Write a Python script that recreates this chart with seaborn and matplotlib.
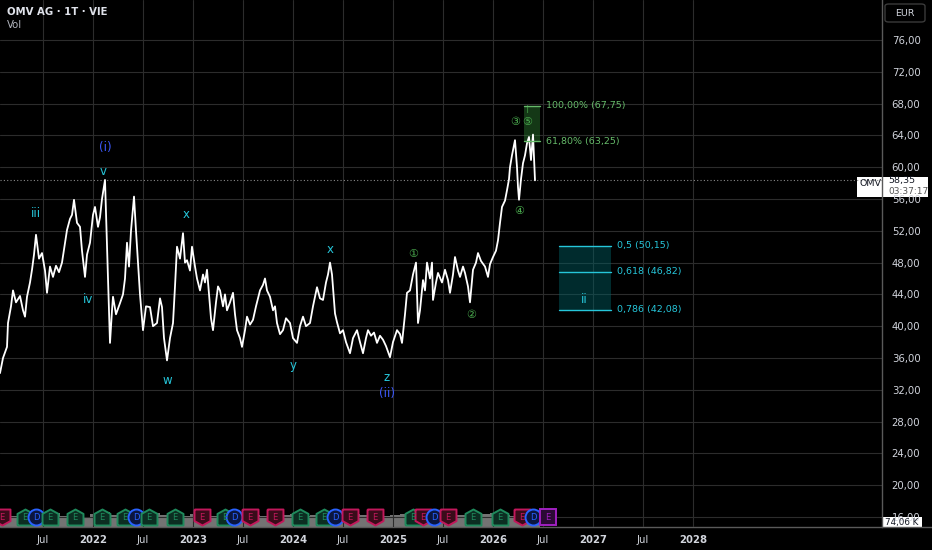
import numpy as np
import pandas as pd
import matplotlib.pyplot as plt
import seaborn as sns
from matplotlib.patches import Rectangle, FancyBboxPatch
from matplotlib.lines import Line2D

# price path (decimal years, close in EUR)
t = [2021.07, 2021.10, 2021.14, 2021.15, 2021.18, 2021.20, 2021.23, 2021.27, 2021.30, 2021.32,
     2021.34, 2021.37, 2021.39, 2021.41, 2021.43, 2021.46, 2021.49, 2021.52, 2021.54, 2021.57,
     2021.60, 2021.63, 2021.66, 2021.69, 2021.72, 2021.74, 2021.77, 2021.79, 2021.81, 2021.84,
     2021.87, 2021.89, 2021.92, 2021.94, 2021.97, 2022.00, 2022.02, 2022.05, 2022.07, 2022.09,
     2022.12, 2022.14, 2022.15, 2022.17, 2022.19, 2022.20, 2022.23, 2022.27, 2022.30, 2022.32,
     2022.34, 2022.36, 2022.38, 2022.41, 2022.43, 2022.45, 2022.47, 2022.50, 2022.53, 2022.57,
     2022.60, 2022.64, 2022.67, 2022.69, 2022.71, 2022.74, 2022.77, 2022.80, 2022.82, 2022.84,
     2022.87, 2022.90, 2022.92, 2022.94, 2022.97, 2022.99, 2023.02, 2023.04, 2023.07, 2023.10,
     2023.12, 2023.14, 2023.16, 2023.18, 2023.20, 2023.23, 2023.25, 2023.27, 2023.30, 2023.32,
     2023.34, 2023.37, 2023.40, 2023.42, 2023.44, 2023.47, 2023.49, 2023.52, 2023.54, 2023.57,
     2023.60, 2023.63, 2023.65, 2023.67, 2023.70, 2023.72, 2023.74, 2023.77, 2023.80, 2023.82,
     2023.84, 2023.87, 2023.90, 2023.93, 2023.97, 2024.00, 2024.04, 2024.07, 2024.10, 2024.13,
     2024.17, 2024.20, 2024.24, 2024.27, 2024.30, 2024.33, 2024.35, 2024.37, 2024.39, 2024.40,
     2024.42, 2024.44, 2024.47, 2024.50, 2024.53, 2024.57, 2024.60, 2024.64, 2024.67, 2024.70,
     2024.73, 2024.75, 2024.78, 2024.81, 2024.84, 2024.87, 2024.90, 2024.93, 2024.97, 2025.00,
     2025.04, 2025.07, 2025.09, 2025.12, 2025.14, 2025.17, 2025.20, 2025.23, 2025.25, 2025.27,
     2025.30, 2025.32, 2025.34, 2025.37, 2025.39, 2025.40, 2025.43, 2025.45, 2025.49, 2025.52,
     2025.55, 2025.57, 2025.60, 2025.62, 2025.65, 2025.67, 2025.70, 2025.72, 2025.75, 2025.77,
     2025.80, 2025.83, 2025.85, 2025.88, 2025.92, 2025.95, 2025.97, 2026.00, 2026.03, 2026.05,
     2026.07, 2026.09, 2026.12, 2026.14, 2026.16, 2026.17, 2026.19, 2026.22, 2026.24, 2026.25,
     2026.26, 2026.28, 2026.30, 2026.32, 2026.34, 2026.36, 2026.38, 2026.40, 2026.42]
close = [34.1, 36.0, 37.4, 40.4, 42.5, 44.5, 43.0, 43.8, 42.0, 41.2,
         43.7, 45.5, 47.1, 49.0, 51.5, 48.5, 49.2, 47.0, 44.2, 47.5,
         46.2, 47.6, 46.8, 48.0, 50.5, 52.1, 53.5, 54.0, 55.9, 53.0,
         52.5, 49.5, 46.2, 49.0, 50.5, 54.0, 55.0, 52.5, 53.7, 56.0,
         58.4, 50.0, 46.0, 37.9, 42.0, 43.7, 41.5, 42.9, 44.0, 46.0,
         50.5, 47.5, 52.0, 56.3, 52.0, 48.0, 44.0, 39.5, 42.5, 42.4,
         40.0, 40.4, 43.5, 42.4, 38.5, 35.7, 38.5, 40.4, 45.0, 50.0,
         48.5, 51.7, 48.0, 48.3, 47.0, 50.0, 47.5, 46.0, 44.5, 46.5,
         45.5, 47.1, 44.0, 41.0, 39.5, 43.0, 45.0, 44.5, 42.5, 44.0,
         42.0, 43.0, 44.2, 41.5, 39.5, 38.5, 37.4, 39.5, 41.2, 40.2,
         40.8, 42.5, 43.5, 44.5, 45.2, 46.0, 44.5, 43.7, 42.0, 42.5,
         40.4, 39.0, 39.5, 41.0, 40.4, 38.5, 37.9, 40.0, 41.2, 40.0,
         40.4, 42.5, 44.9, 43.5, 43.3, 45.5, 46.5, 48.0, 46.5, 44.9,
         41.6, 40.5, 39.1, 39.5, 38.0, 36.6, 38.5, 39.5, 38.0, 36.6,
         38.5, 39.5, 38.8, 39.2, 37.9, 38.8, 38.3, 37.5, 36.1, 38.0,
         39.5, 39.0, 37.9, 41.5, 44.2, 44.5, 46.5, 48.0, 40.4, 42.0,
         45.8, 44.5, 48.0, 46.0, 48.0, 43.3, 45.5, 46.7, 45.5, 47.1,
         45.8, 44.2, 46.5, 48.7, 47.0, 46.2, 47.5, 46.7, 45.0, 43.0,
         47.1, 48.0, 49.2, 48.2, 47.5, 46.2, 47.8, 48.7, 49.5, 50.8,
         53.0, 55.0, 55.8, 57.1, 58.5, 60.0, 61.5, 63.4, 60.0, 57.5,
         55.9, 58.5, 60.5, 61.5, 63.0, 63.8, 60.9, 64.1, 58.35]
last_price = 58.35

# volume (thousand shares): base band and the visible spikes
band_t = [2021.07 + i / 10 for i in range(54)]
band_k = [480, 440, 520, 400, 480, 560, 440, 480, 400, 520, 600, 480, 440, 520, 480, 560, 480, 400,
          440, 520, 480, 440, 480, 560, 520, 480, 440, 400, 480, 520, 440, 480, 560, 480, 440, 520,
          480, 400, 440, 480, 520, 560, 480, 440, 520, 480, 480, 440, 520, 560, 480, 440, 520, 400]
spike_t = [2021.13, 2021.21, 2021.45, 2021.91, 2022.15, 2022.20, 2022.40, 2022.70, 2022.91, 2023.08,
           2023.20, 2023.40, 2023.45, 2023.91, 2024.20, 2024.70, 2024.93, 2025.14, 2025.20, 2025.24,
           2025.39, 2025.44, 2025.70, 2026.19, 2026.37]
spike_k = [880, 5200, 800, 880, 1480, 1680, 1080, 680, 800, 880,
           880, 800, 800, 880, 2080, 880, 800, 800, 3880, 880,
           880, 880, 1280, 2160, 800]

# earnings / dividend markers along the bottom
earn_t = [2021.09, 2021.32, 2021.43, 2021.57, 2021.82, 2022.09, 2022.32, 2022.43, 2022.56, 2022.82,
          2023.09, 2023.32, 2023.41, 2023.57, 2023.82, 2024.07, 2024.31, 2024.42, 2024.57, 2024.82,
          2025.20, 2025.30, 2025.41, 2025.55, 2025.80, 2026.07, 2026.29, 2026.40, 2026.55]
earn_kind = ["R", "G", "D", "G", "G", "G", "G", "D", "G", "G",
             "R", "G", "D", "R", "R", "G", "G", "D", "R", "R",
             "G", "R", "D", "R", "G", "G", "R", "D", "P"]

# Elliott wave labels
wave_text = ["(i)", "v", "iii", "iv", "x", "w", "y", "x", "z", "(ii)",
             "①", "②", "③", "④", "⑤", "i", "ii"]
wave_t = [2022.12, 2022.10, 2021.43, 2021.95, 2022.93, 2022.74, 2024.00, 2024.37, 2024.94, 2024.94,
          2025.20, 2025.78, 2026.22, 2026.26, 2026.34, 2026.35, 2026.91]
wave_y = [62.5, 59.5, 54.2, 43.3, 54.1, 33.2, 35.0, 49.6, 33.6, 31.5,
          49.1, 41.4, 65.7, 54.5, 65.7, 67.2, 43.3]
wave_grp = ["blue", "cyan", "cyan", "cyan", "cyan", "cyan", "cyan", "cyan", "cyan", "blue",
            "green", "green", "green", "green", "green", "green", "cyan"]

# fib targets
ext_levels = [67.75, 63.25]
ext_labels = ["100,00% (67,75)", "61,80% (63,25)"]
ext_span = [2026.31, 2026.47]
ret_levels = [50.15, 46.82, 42.08]
ret_labels = ["0,5 (50,15)", "0,618 (46,82)", "0,786 (42,08)"]
ret_span = [2026.66, 2027.18]

tick_pos = [2021.5, 2022, 2022.5, 2023, 2023.5, 2024, 2024.5, 2025, 2025.5, 2026, 2026.5, 2027, 2027.5, 2028]
tick_lab = ["Jul", "2022", "Jul", "2023", "Jul", "2024", "Jul", "2025", "Jul", "2026", "Jul", "2027", "Jul", "2028"]

sns.set_theme(style="dark", rc={"axes.facecolor": "black", "figure.facecolor": "black"})
plt.rcParams["font.family"] = ["DejaVu Sans", "Noto Sans CJK JP"]

W, H = 932, 550
fig = plt.figure(figsize=(W / 100, H / 100), dpi=100)


def fp(x, y):
    return x / W, 1 - y / H


ax = fig.add_axes([0, 1 - 527 / H, 882 / W, 527 / H])
axv = ax.twinx()
ax.set_zorder(2)
ax.patch.set_visible(False)
axv.set_zorder(1)

x0, x1 = 2021.07, 2021.07 + 8.82
ax.set_xlim(x0, x1)
ax.set_ylim(76 - 487 / 7.95, 76 + 40 / 7.95)
axv.set_ylim(0, 527 * 40)
axv.axis("off")

# volume
axv.bar(band_t, band_k, width=0.1, color="#9a9a9a", alpha=0.75, align="edge", linewidth=0)
axv.bar(spike_t, spike_k, width=0.006, color="#c8c8c8", linewidth=0)

# grid
grid_c = "#2c2c2c"
for v in range(16, 80, 4):
    ax.axhline(v, color=grid_c, lw=0.8, zorder=0)
for p in tick_pos:
    ax.axvline(p, color=grid_c, lw=0.8, zorder=0)

ax.axhline(last_price, color="#8a8a8a", lw=0.8, ls=(0, (1, 2)), zorder=1)

sns.lineplot(x=t, y=close, ax=ax, color="white", lw=1.3, zorder=3)

# fib extension box
c_g = "#66bb6a"
ax.fill_between(ext_span, ext_levels[1], ext_levels[0], color="#2e7d32", alpha=0.45, lw=0, zorder=2)
for lv, lb in zip(ext_levels, ext_labels):
    ax.plot(ext_span, [lv, lv], color=c_g, lw=1.0, zorder=4)
    ax.text(ext_span[1] + 0.06, lv, lb, color=c_g, fontsize=6.8, va="center", ha="left")

# retracement box
c_c = "#26c6da"
ax.fill_between(ret_span, ret_levels[2], ret_levels[0], color="#006064", alpha=0.45, lw=0, zorder=2)
for lv, lb in zip(ret_levels, ret_labels):
    ax.plot(ret_span, [lv, lv], color=c_c, lw=1.0, zorder=4)
    ax.text(ret_span[1] + 0.06, lv, lb, color=c_c, fontsize=6.8, va="center", ha="left")

# wave labels
wave_col = {"blue": "#3d5afe", "cyan": "#26c6da", "green": "#4caf50"}
for s, xx, yy, g in zip(wave_text, wave_t, wave_y, wave_grp):
    ax.text(xx, yy, s, color=wave_col[g], fontsize=8.5 if g != "green" else 8,
            ha="center", va="center", zorder=5, alpha=0.6 if s == "i" else 1)

# earnings markers
house = [(-1, -1), (1, -1), (1, 0.45), (0, 1), (-1, 0.45), (-1, -1)]
shield = [(x, -y) for x, y in house]
mk_style = {"G": (house, "#1f8a5c", "#0c2e22", "E"),
            "R": (shield, "#c2185b", "#3a0c1a", "E"),
            "D": ("o", "#2962ff", "#0b1640", "D"),
            "P": ("s", "#a020c0", "#2b0a35", "E")}
for xx, k in zip(earn_t, earn_kind):
    m, ec, fc, lb = mk_style[k]
    ax.plot(xx, 16.0, marker=m, ms=11.5, mec=ec, mfc=fc, mew=1.4, zorder=6, clip_on=False)
    ax.text(xx, 16.0, lb, color=ec, fontsize=6, ha="center", va="center", zorder=7)

# axes styling
ax.set_yticks(range(16, 80, 4))
ax.set_yticklabels([f"{v:.2f}".replace(".", ",") for v in range(16, 80, 4)])
ax.yaxis.tick_right()
ax.set_xticks(tick_pos)
ax.set_xticklabels(tick_lab)
for lbl in ax.get_xticklabels():
    if lbl.get_text() != "Jul":
        lbl.set_fontweight("bold")
ax.tick_params(axis="both", length=0, colors="#d1d4dc", labelsize=7.3)
ax.tick_params(axis="y", pad=7)
ax.tick_params(axis="x", pad=6)
for sp in ["top", "left", "bottom"]:
    ax.spines[sp].set_visible(False)
ax.spines["right"].set_color("#5a5a5a")
ax.spines["right"].set_linewidth(1.0)
ax.grid(False)

fig.add_artist(Line2D([0, 1], [1 - 527 / H, 1 - 527 / H], color="#5a5a5a", lw=1.0))

# header
fig.text(*fp(7, 12), "OMV AG · 1T · VIE", color="#e0e3eb", fontsize=7.3, fontweight="bold", va="center")
fig.text(*fp(7, 25), "Vol", color="#b2b5be", fontsize=7.3, va="center")

# currency box
bx, by = fp(885, 22)
fig.add_artist(FancyBboxPatch((bx, by), 40 / W, 18 / H, boxstyle="round,pad=0,rounding_size=0.004",
                              transform=fig.transFigure, fc="black", ec="#3a3a3a", lw=1))
fig.text(*fp(905, 13), "EUR", color="#d1d4dc", fontsize=6.8, ha="center", va="center")

# last price tag
rx, ry = fp(857, 197)
fig.add_artist(Rectangle((rx, ry), 71 / W, 20 / H, transform=fig.transFigure, fc="white", ec="none"))
fig.text(*fp(860, 184), "OMV", color="#131722", fontsize=6.8, va="center")
fig.text(*fp(888, 181), "58,35", color="#131722", fontsize=6.8, va="center")
fig.text(*fp(888, 191), "03:37:17", color="#555555", fontsize=6.5, va="center")

# last volume tag
vx, vy = fp(882, 528)
fig.add_artist(Rectangle((vx, vy), 40 / W, 11 / H, transform=fig.transFigure, fc="white", ec="none"))
fig.text(*fp(902, 522), "74,06 K", color="#131722", fontsize=6.3, ha="center", va="center")

fig.savefig("out.png", dpi=100, facecolor="black")
